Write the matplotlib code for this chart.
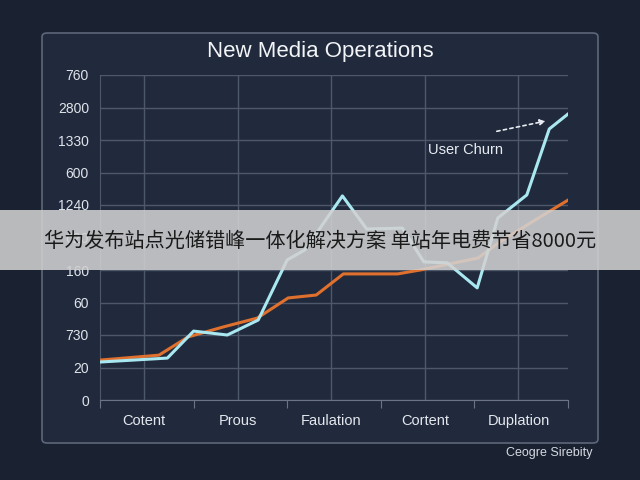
import matplotlib.pyplot as plt
from matplotlib.patches import FancyBboxPatch, Rectangle

plt.rcParams['font.family'] = ['Liberation Sans', 'DejaVu Sans']

# data (x in tick units, y in gridline units)
categories = ['Cotent', 'Prous', 'Faulation', 'Cortent', 'Duplation']
y_labels = ['0', '20', '730', '60', '160', '620', '1240', '600', '1330', '2800', '760']
cyan_x = [0.01, 0.72, 1.0, 1.36, 1.69, 2.0, 2.19, 2.59, 2.85, 3.23, 3.46, 3.71, 4.03, 4.25, 4.56, 4.80, 5.0]
cyan_y = [1.17, 1.29, 2.12, 2.0, 2.46, 4.31, 4.62, 6.28, 5.26, 5.29, 4.25, 4.22, 3.45, 5.6, 6.31, 8.34, 8.8]
orange_x = [0.01, 0.63, 0.94, 1.32, 1.68, 2.01, 2.31, 2.6, 3.18, 3.42, 4.04, 4.27, 4.65, 5.0]
orange_y = [1.23, 1.38, 1.94, 2.25, 2.52, 3.14, 3.23, 3.88, 3.88, 4.0, 4.37, 4.86, 5.54, 6.15]
banner = '华为发布站点光储错峰一体化解决方案 单站年电费节省8000元'

fig = plt.figure(figsize=(6.4, 4.8), dpi=100, facecolor='#1a2231')

# panel behind the chart
panel = FancyBboxPatch((42 / 640, 1 - 443 / 480), 556 / 640, 410 / 480,
                       boxstyle='round,pad=0,rounding_size=0.008',
                       transform=fig.transFigure, facecolor='#212a3c',
                       edgecolor='#5d6779', linewidth=1.2, zorder=-5)
fig.patches.append(panel)

ax = fig.add_axes([100 / 640, 1 - 400 / 480, 468 / 640, 325 / 480])
ax.set_zorder(2)
ax.set_facecolor('none')
ax.set_xlim(0, 5)
ax.set_ylim(0, 10)

grid_c = '#4e586b'
for i in range(11):
    ax.axhline(i, color=grid_c, lw=1.0, zorder=1)
cat_pos = [0.47 + i for i in range(5)]
for p in cat_pos:
    ax.axvline(p, color=grid_c, lw=1.0, zorder=1)

ax.plot(orange_x, orange_y, color='#e0702e', lw=2.2, zorder=3)
ax.plot(cyan_x, cyan_y, color='#a9e8f0', lw=2.2, zorder=4)

for s in ['top', 'right']:
    ax.spines[s].set_visible(False)
ax.spines['left'].set_color(grid_c)
ax.spines['bottom'].set_color('#6b7488')

ax.set_yticks(range(11))
ax.set_yticklabels(y_labels, color='#dfe3ea', fontsize=10)
ax.tick_params(axis='y', length=0, pad=8)
ax.set_xticks(range(6))
ax.set_xticklabels([''] * 6)
ax.tick_params(axis='x', length=6, color='#6b7488', direction='out')
ax.set_xticks(cat_pos, minor=True)
ax.set_xticklabels(categories, minor=True, color='#e4e8ee', fontsize=10.5)
ax.tick_params(axis='x', which='minor', length=0, pad=10)

fig.text(0.5, 1 - 52 / 480, 'New Media Operations', color='#f2f4f7',
         fontsize=16, ha='center', va='center')

ax.text(3.5, 7.7, 'User Churn', color='#e8ecf2', fontsize=10.5, ha='left', va='center')
ax.annotate('', xy=(4.79, 8.6), xytext=(4.21, 8.25),
            arrowprops=dict(arrowstyle='-|>', color='#e8ecf2', lw=1.2,
                            linestyle=(0, (2, 2)), mutation_scale=8))

fig.text(592 / 640, 1 - 453 / 480, 'Ceogre Sirebity', color='#d5dae2',
         fontsize=9, ha='right', va='center')

# grey banner across the middle
fig.patches.append(Rectangle((0, 1 - 270 / 480), 1, 60 / 480, transform=fig.transFigure,
                             facecolor='#d2d2d2', alpha=0.87, edgecolor='none', zorder=10))
fig.text(0.5, 1 - 241 / 480, banner, color='#1a1a1a', fontsize=14.5,
         ha='center', va='center', family=['Noto Sans CJK SC', 'DejaVu Sans'], zorder=11)

fig.savefig('out.png', dpi=100, facecolor=fig.get_facecolor())
